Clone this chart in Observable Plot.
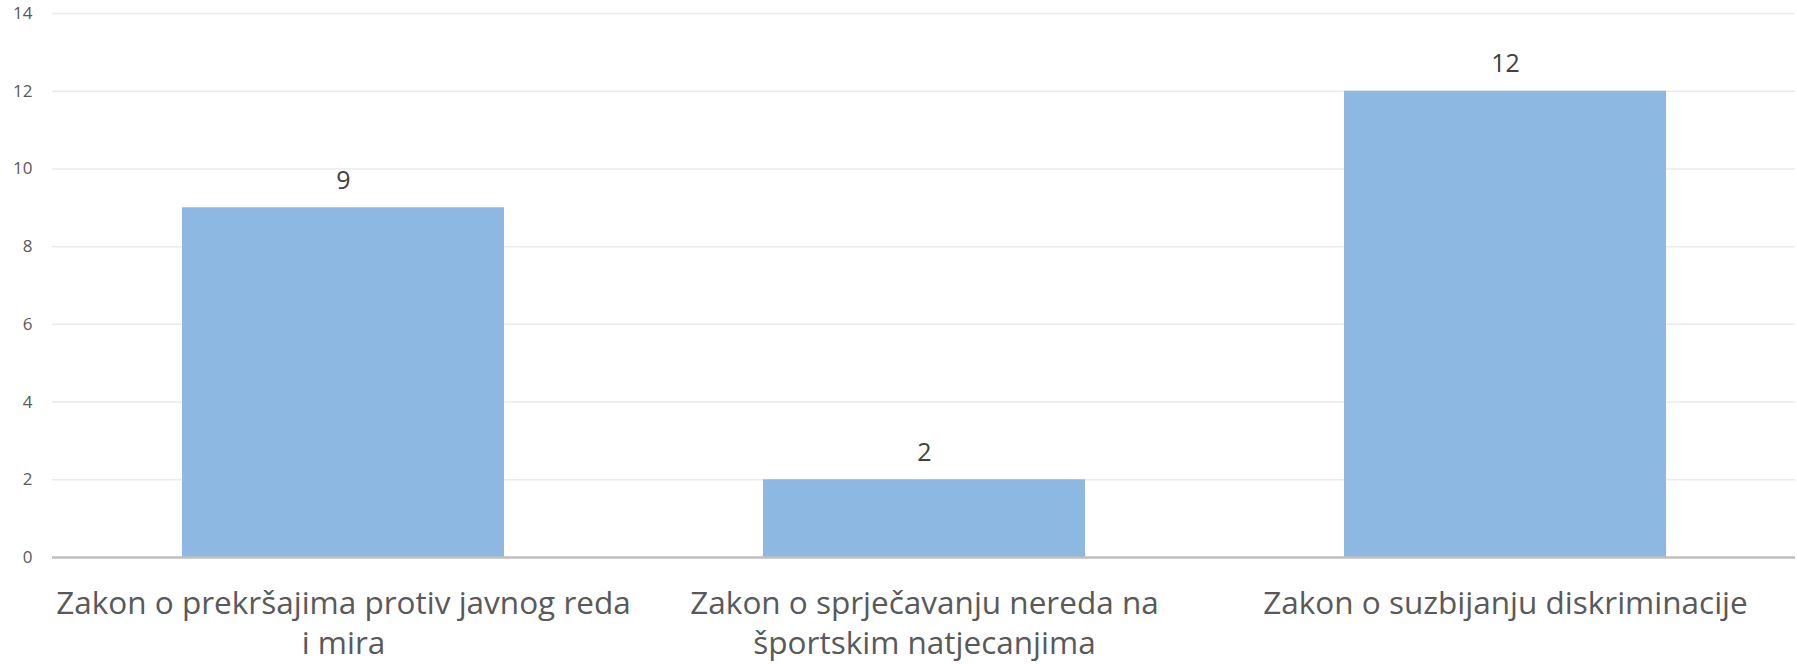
<!DOCTYPE html>
<html>
<head>
<meta charset="utf-8">
<script src="https://cdn.jsdelivr.net/npm/d3@7"></script>
<script src="https://cdn.jsdelivr.net/npm/@observablehq/plot@0.6"></script>
<style>
  html, body { margin: 0; padding: 0; background: #ffffff; }
  #chart { width: 1797px; height: 664px; overflow: hidden; }
</style>
</head>
<body>
<div id="chart"></div>
<script>
const categories = [
  "Zakon o prekršajima protiv javnog reda i mira",
  "Zakon o sprječavanju nereda na športskim natjecanjima",
  "Zakon o suzbijanju diskriminacije"
];
const tickLabels = [
  "Zakon o prekršajima protiv javnog reda\ni mira",
  "Zakon o sprječavanju nereda na\nšportskim natjecanjima",
  "Zakon o suzbijanju diskriminacije"
];
const values = [9, 2, 12];
const yTicks = [0, 2, 4, 6, 8, 10, 12, 14];

const data = categories.map((c, i) => ({category: c, value: values[i]}));
const labelOf = new Map(categories.map((c, i) => [c, tickLabels[i]]));

const chart = Plot.plot({
  width: 1797,
  height: 664,
  marginTop: 13,
  marginBottom: 107,
  marginLeft: 52,
  marginRight: 2,
  style: {fontFamily: "'Open Sans', sans-serif", background: "#ffffff"},
  x: {type: "band", domain: categories, paddingInner: 0.446, paddingOuter: 0.223},
  y: {domain: [0, 14]},
  marks: [
    Plot.gridY(yTicks, {stroke: "#ebebeb", strokeOpacity: 1, strokeWidth: 1.5}),
    Plot.axisY(yTicks, {tickSize: 0, tickPadding: 20, fontSize: 17, fill: "#595959", label: null}),
    Plot.barY(data, {x: "category", y: "value", fill: "#8db8e2"}),
    Plot.ruleY([0], {stroke: "#bfbfbf", strokeWidth: 2.3}),
    Plot.text(data, {x: "category", y: "value", text: d => String(d.value), lineAnchor: "bottom", dy: -19, fontSize: 25, fill: "#404040"}),
    Plot.axisX({tickSize: 0, tickPadding: 28, fontSize: 31.5, lineHeight: 1.28, fill: "#595959", label: null, tickFormat: d => labelOf.get(d)})
  ]
});
document.getElementById("chart").appendChild(chart);
</script>
</body>
</html>
